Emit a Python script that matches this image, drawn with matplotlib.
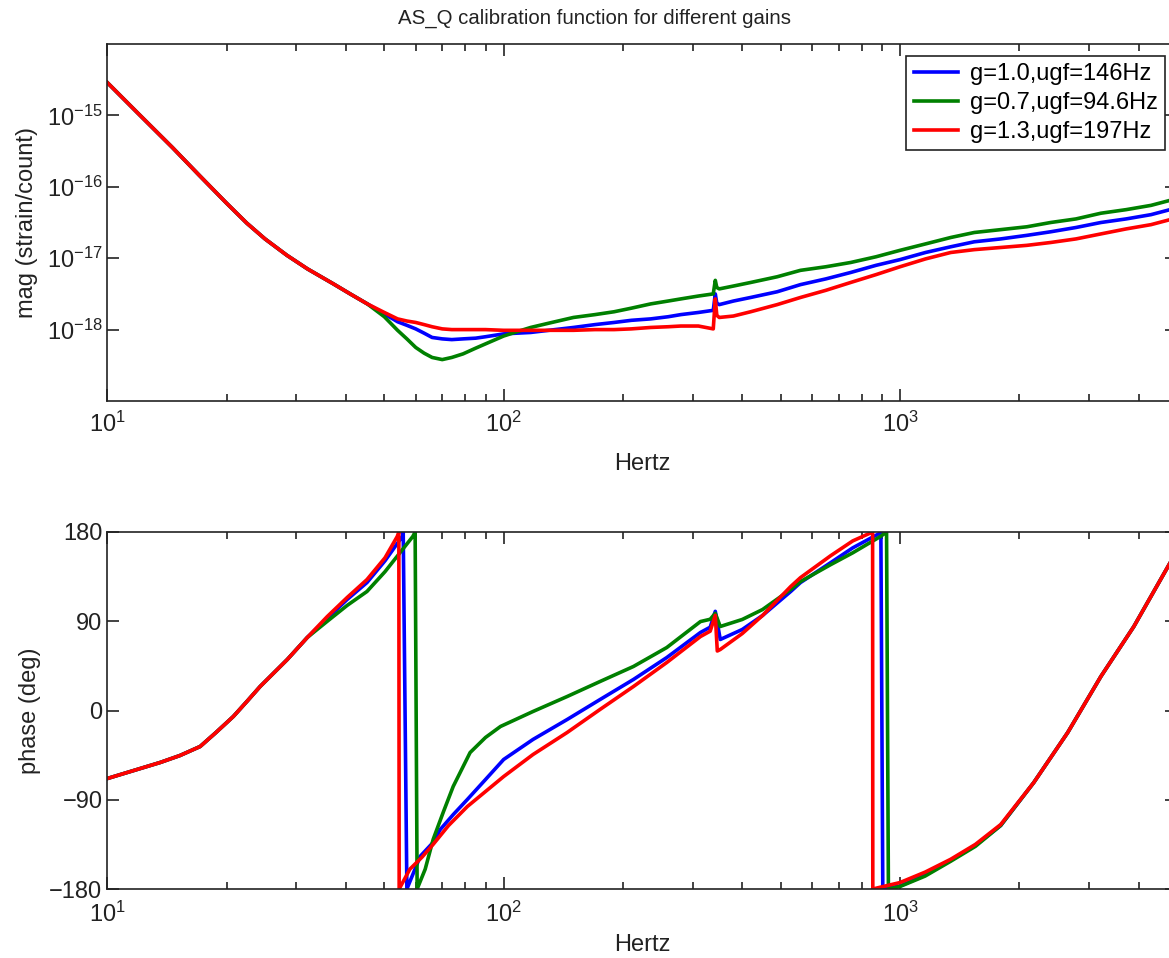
import matplotlib
matplotlib.use('agg')
import matplotlib.pyplot as plt
import matplotlib.ticker as mticker
import numpy as np

plt.rcParams['font.family'] = ['Liberation Sans', 'DejaVu Sans']
plt.rcParams['mathtext.fontset'] = 'custom'
plt.rcParams['mathtext.rm'] = 'Liberation Sans'
plt.rcParams['mathtext.it'] = 'Liberation Sans:italic'

labels = ['g=1.0,ugf=146Hz', 'g=0.7,ugf=94.6Hz', 'g=1.3,ugf=197Hz']
colors = ['#0000ff', '#008000', '#ff0000']

# magnitude, log10(strain/count)
f_mag = [10, 12, 14.6, 17, 20, 22.5, 25, 28.4, 32, 37.2, 41, 45.3, 50, 54, 57, 60, 63, 66, 70, 74,
         79, 85, 90, 100, 108, 117, 130, 150, 170, 190, 210, 235, 260, 280, 310, 338, 342, 345, 350,
         380, 420, 490, 561, 650, 751, 870, 1000, 1160, 1343, 1540, 1795, 2090, 2400, 2780, 3213,
         3720, 4300, 4800, 5000]
mag_g10 = [-14.54, -14.98, -15.45, -15.83, -16.23, -16.51, -16.73, -16.96, -17.15, -17.36, -17.50, -17.64,
           -17.78, -17.89, -17.94, -17.99, -18.05, -18.11, -18.13, -18.14,
           -18.13, -18.12, -18.10, -18.06, -18.05, -18.04, -18.01, -17.97, -17.93, -17.90, -17.87, -17.85,
           -17.82, -17.79, -17.76, -17.73, -17.50, -17.63, -17.65,
           -17.60, -17.55, -17.47, -17.37, -17.29, -17.20, -17.10, -17.02, -16.92, -16.84, -16.77, -16.73,
           -16.68, -16.63, -16.57, -16.50, -16.45, -16.39, -16.32, -16.30]
mag_g07 = [-14.54, -14.98, -15.45, -15.83, -16.23, -16.51, -16.73, -16.96, -17.15, -17.36, -17.50, -17.64,
           -17.82, -18.01, -18.13, -18.25, -18.33, -18.39, -18.42, -18.39,
           -18.34, -18.26, -18.20, -18.09, -18.03, -17.97, -17.91, -17.83, -17.79, -17.75, -17.70, -17.64,
           -17.60, -17.57, -17.53, -17.50, -17.31, -17.41, -17.43,
           -17.39, -17.34, -17.26, -17.17, -17.12, -17.06, -16.98, -16.89, -16.80, -16.71, -16.64, -16.60,
           -16.56, -16.50, -16.45, -16.37, -16.32, -16.26, -16.19, -16.17]
mag_g13 = [-14.54, -14.98, -15.45, -15.83, -16.23, -16.51, -16.73, -16.96, -17.15, -17.36, -17.50, -17.64,
           -17.76, -17.85, -17.88, -17.90, -17.93, -17.96, -17.99, -18.00,
           -18.00, -18.00, -18.00, -18.01, -18.01, -18.01, -18.01, -18.01, -18.00, -18.00, -17.99, -17.97,
           -17.96, -17.95, -17.95, -17.99, -17.57, -17.80, -17.83,
           -17.81, -17.75, -17.65, -17.55, -17.45, -17.34, -17.23, -17.12, -17.01, -16.92, -16.88, -16.85,
           -16.82, -16.78, -16.73, -16.66, -16.59, -16.53, -16.46, -16.44]

# phase (deg), wrapped to +-180
f_low = [10, 13.6, 15.25, 17.15, 18.8, 20.8, 22.5, 24.3, 28.45, 31.95]
ph_low = [-68.6, -52.4, -45.4, -36.3, -22.2, -6.0, 9.1, 24.2, 51.4, 73.6]
f_high = [2176, 2650, 3213, 3891, 4745, 5000]
ph_high = [-72.6, -22.2, 34.3, 84.7, 145.2, 161]

f_ph_g10 = f_low + [35.9, 40.3, 45.2, 50.2, 55.5, 55.8, 57.0, 61.6, 66.4, 69.2, 74.6, 81, 90, 100,
                    118.6, 144.6, 175, 212.6, 258, 313.8, 332, 342, 352, 400, 450, 530, 561, 668, 760,
                    887, 895, 905, 1000, 1157, 1343, 1550, 1795] + f_high
ph_g10 = ph_low + [93, 112, 129, 151, 175.5, 180, -180, -147, -133, -120, -105, -89.7, -69.6, -49.4,
                   -29.2, -9.1, 11, 31.3, 53.4, 78.7, 84, 100, 71.6, 81.7, 95.8, 120, 129, 149, 164,
                   178.5, 180, -180, -177, -166, -151, -136, -116] + ph_high
f_ph_g07 = f_low + [35.9, 40.3, 45.2, 50.2, 59.0, 59.8, 60.5, 63.4, 66.4, 70.5, 74.6, 82.3, 90, 98.2,
                    118.6, 144.6, 175, 212.6, 258, 313.8, 332, 342, 352, 400, 450, 530, 561, 668, 760,
                    893, 925, 935, 1000, 1157, 1343, 1550, 1795] + f_high
ph_g07 = ph_low + [90, 106, 120, 140, 175.5, 180, -180, -160, -130, -102, -76.6, -42.4, -27.2, -16.1,
                   -1, 14.1, 29.2, 44.4, 63.5, 89.7, 92, 98, 84.7, 91.8, 101.8, 122, 130, 147, 159,
                   175.5, 180, -180, -177.5, -167, -152, -137, -116] + ph_high
f_ph_g13 = f_low + [35.9, 40.3, 45.2, 50.2, 53.9, 54.4, 54.5, 58.0, 62.2, 66.4, 72.6, 81, 90, 100,
                    118.6, 144.6, 175, 212.6, 258, 313.8, 332, 342, 346, 352, 400, 450, 530, 561, 668,
                    760, 853, 854, 1000, 1157, 1343, 1550, 1795] + f_high
ph_g13 = ph_low + [94.8, 114, 132, 154, 175.5, 180, -180, -160, -148, -135, -116, -96.8, -81.7, -66.6,
                   -44.4, -22.2, 1, 24.2, 48.4, 74.6, 80, 96, 60, 61.5, 77.6, 95.8, 125, 134, 156,
                   171, 180, -180, -173.5, -163, -150, -135, -115] + ph_high

mags = [mag_g10, mag_g07, mag_g13]
phases = [(f_ph_g10, ph_g10), (f_ph_g07, ph_g07), (f_ph_g13, ph_g13)]

W, H = 1169, 958
fig = plt.figure(figsize=(W / 100, H / 100), dpi=100)
ax1 = fig.add_axes([107.3 / W, 1 - 401 / H, (1177 - 107.3) / W, 357 / H])
ax2 = fig.add_axes([107.3 / W, 1 - 889 / H, (1177 - 107.3) / W, 357 / H])

for m, c, lab in zip(mags, colors, labels):
    ax1.loglog(f_mag, 10 ** np.array(m), color=c, lw=2.6, label=lab)
for (fp, p), c in zip(phases, colors):
    ax2.semilogx(fp, p, color=c, lw=2.6)

for ax in (ax1, ax2):
    ax.set_xlim(10, 5000)
    ax.tick_params(which='both', direction='in', top=True, right=True, labelsize=17, width=1.2,
                   colors='#222222')
    ax.tick_params(which='major', length=8.5)
    ax.tick_params(which='minor', length=5)
    ax.xaxis.set_major_locator(mticker.LogLocator(base=10, numticks=10))
    ax.xaxis.set_minor_locator(mticker.LogLocator(base=10, subs=np.arange(2, 10), numticks=20))
    ax.xaxis.set_minor_formatter(mticker.NullFormatter())
    for s in ax.spines.values():
        s.set_linewidth(1.2)
        s.set_color('#222222')

ax1.tick_params(axis='x', which='major', pad=8)
ax2.tick_params(axis='x', which='major', pad=9)
ax1.set_xlabel('Hertz', fontsize=17, labelpad=11, color='#222222')
ax2.set_xlabel('Hertz', fontsize=17, labelpad=5, color='#222222')

ax1.set_ylim(1e-19, 1e-14)
ax1.set_yticks([1e-18, 1e-17, 1e-16, 1e-15])
ax1.yaxis.set_minor_locator(mticker.NullLocator())
ax1.set_ylabel('mag (strain/count)', fontsize=17, labelpad=6, color='#222222')

ax2.set_ylim(-180, 180)
ax2.set_yticks([-180, -90, 0, 90, 180])
ax2.set_yticklabels(['\u2212180', '\u221290', '0', '90', '180'])
ax2.set_ylabel('phase (deg)', fontsize=17, labelpad=6, color='#222222')

leg = ax1.legend(loc='upper right', fontsize=17, fancybox=False, edgecolor='#222222',
                 handlelength=1.9, handletextpad=0.5, borderaxespad=0.5, labelspacing=0.3,
                 borderpad=0.3, framealpha=1)
leg.get_frame().set_linewidth(1.2)

fig.text(595 / W, 1 - 18 / H, 'AS_Q calibration function for different gains',
         ha='center', va='center', fontsize=14.7, color='#222222')

plt.savefig('out.png', dpi=100)
